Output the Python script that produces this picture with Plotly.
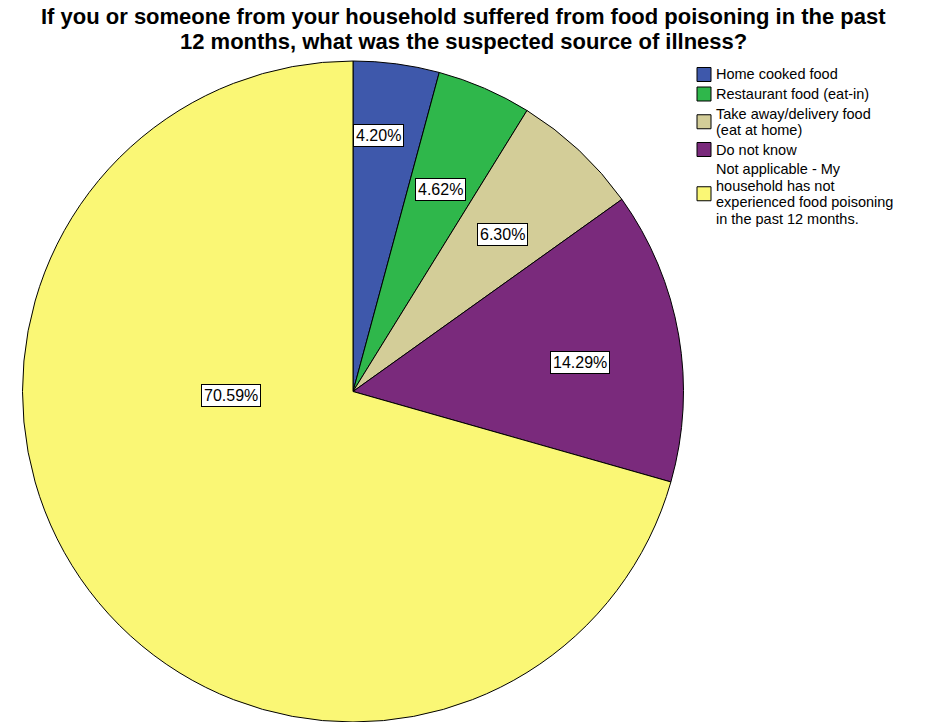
import math
import plotly.graph_objects as go

# Survey responses (counts) for the suspected source of illness
categories = [
    "Home cooked food",
    "Restaurant food (eat-in)",
    "Take away/delivery food<br>(eat at home)",
    "Do not know",
    "Not applicable - My<br>household has not<br>experienced food poisoning<br>in the past 12 months.",
]
counts = [10, 11, 15, 34, 168]
colors = ["#3E58AB", "#2FB74B", "#D3CD98", "#7A2A7C", "#FAF775"]
title_lines = [
    "If you or someone from your household suffered from food poisoning in the past",
    "12 months, what was the suspected source of illness?",
]

W, H = 926, 722
TOP = 61
plot_h = H - TOP
radius_px = plot_h / 2
cx_px = 353
cy_px = TOP + radius_px
dom_half = 0.38
x_dom = [cx_px / W - dom_half, cx_px / W + dom_half]
FONT = "Liberation Sans, Arial, sans-serif"


def px_x(x):
    return x / W


def px_y(y):
    # pixel row (from top of page) -> paper y
    return 1 - (y - TOP) / plot_h


# percentage label placement: fraction of radius and angular nudge (degrees)
label_r = [0.778, 0.666, 0.655, 0.694, 0.369]
label_da = [-1.9, 0.0, 0.4, 2.5, 35.2]

fig = go.Figure()
fig.add_trace(go.Pie(
    labels=[c.replace("<br>", " ") for c in categories],
    values=counts,
    sort=False,
    direction="clockwise",
    rotation=0,
    marker=dict(colors=colors, line=dict(color="#000000", width=1)),
    textinfo="none",
    hoverinfo="label+percent",
    showlegend=False,
    domain=dict(x=x_dom, y=[0, 1]),
))

total = sum(counts)
annotations = []
shapes = []
cum = 0
for i, v in enumerate(counts):
    pct = 100 * v / total
    mid = (cum + v / 2) / total * 360 + label_da[i]
    cum += v
    r = label_r[i] * radius_px
    dx = r * math.sin(math.radians(mid))
    dy = r * math.cos(math.radians(mid))
    annotations.append(dict(
        x=px_x(cx_px + dx), y=px_y(cy_px - dy),
        xref="paper", yref="paper",
        xanchor="center", yanchor="middle",
        text=f"{pct:.2f}%",
        showarrow=False,
        font=dict(family=FONT, size=16, color="#000000"),
        bgcolor="#FFFFFF",
        bordercolor="#000000",
        borderwidth=1,
        borderpad=2,
    ))

# two-line heading
title_mid = [16, 41.5]
for line, ym in zip(title_lines, title_mid):
    annotations.append(dict(
        x=0.5, xref="paper", xanchor="center",
        y=px_y(ym), yref="paper", yanchor="middle",
        text=f"<b>{line}</b>",
        showarrow=False,
        font=dict(family=FONT, size=22, color="#000000"),
        borderpad=0,
    ))

# legend: swatch plus text lines
leg_x_box = 697
leg_box = 14
leg_x_text = 715
line_step = 16.5
item_gap = 3
y_line = 74.5
for name, col in zip(categories, colors):
    lines = name.split("<br>")
    centers = []
    for ln in lines:
        centers.append(y_line)
        annotations.append(dict(
            x=px_x(leg_x_text), xref="paper", xanchor="left",
            y=px_y(y_line), yref="paper", yanchor="middle",
            text=ln, showarrow=False,
            font=dict(family=FONT, size=14.5, color="#000000"),
            borderpad=0,
        ))
        y_line += line_step
    y_line += item_gap
    yc = (centers[0] + centers[-1]) / 2
    shapes.append(dict(
        type="rect", xref="paper", yref="paper",
        x0=px_x(leg_x_box), x1=px_x(leg_x_box + leg_box),
        y0=px_y(yc - leg_box / 2), y1=px_y(yc + leg_box / 2),
        fillcolor=col, line=dict(color="#000000", width=1),
    ))

fig.update_layout(
    width=W, height=H,
    margin=dict(l=0, r=0, t=TOP, b=0),
    paper_bgcolor="#FFFFFF",
    plot_bgcolor="#FFFFFF",
    showlegend=False,
    annotations=annotations,
    shapes=shapes,
)

fig.write_html("out.html")
